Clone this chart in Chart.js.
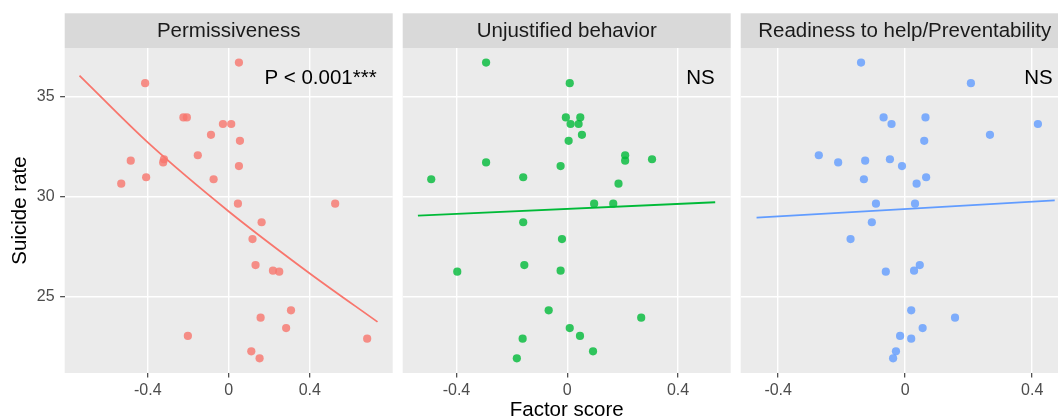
<!DOCTYPE html>
<html>
<head>
<meta charset="utf-8">
<title>Suicide rate by factor score</title>
<script src="https://cdn.jsdelivr.net/npm/chart.js@4.4.1/dist/chart.umd.min.js"></script>
<style>
    html, body { margin: 0; padding: 0; background: #ffffff; overflow: hidden; }
    #wrap { position: relative; width: 1058px; height: 420px; overflow: hidden; }
    #wrap canvas { position: absolute; top: 0; }
</style>
</head>
<body>
<div id="wrap">
    <canvas id="panel1" width="398" height="420" style="left:0px"></canvas>
    <canvas id="panel2" width="338" height="420" style="left:398px"></canvas>
    <canvas id="panel3" width="338" height="420" style="left:736px"></canvas>
</div>
<script>
// Suicide rate (shared by all three panels), high to low
const suicideRate = [36.69, 35.66, 33.95, 33.95, 33.62, 33.62, 33.08, 32.78, 32.06, 31.86,
                     31.79, 31.70, 31.52, 30.96, 30.86, 30.64, 29.64, 29.64, 28.71, 27.87,
                     26.57, 26.29, 26.24, 24.31, 23.94, 23.42, 23.03, 22.89, 22.26, 21.91];

// Factor scores, same order as suicideRate
const permissiveness = [0.050, -0.413, -0.224, -0.207, -0.029, 0.012, -0.088, 0.055, -0.153, -0.320,
                        -0.484, -0.324, 0.050, -0.408, -0.075, -0.531, 0.045, 0.525, 0.162, 0.117,
                        0.132, 0.218, 0.249, 0.307, 0.157, 0.283, -0.202, 0.683, 0.111, 0.152];
const unjustified = [-0.293, 0.009, -0.005, 0.047, 0.012, 0.041, 0.053, 0.005, 0.209, 0.306,
                     0.209, -0.293, -0.024, -0.159, -0.491, 0.185, 0.097, 0.166, -0.159, -0.019,
                     -0.155, -0.024, -0.397, -0.067, 0.267, 0.009, 0.046, -0.161, 0.093, -0.182];
const readiness = [-0.139, 0.207, -0.068, 0.064, -0.043, 0.418, 0.267, 0.060, -0.272, -0.048,
                   -0.126, -0.211, -0.010, 0.066, -0.130, 0.036, -0.092, 0.031, -0.105, -0.172,
                   0.046, 0.028, -0.061, 0.019, 0.157, 0.055, -0.016, 0.019, -0.029, -0.038];

// Fitted lines
const fitPermX = [-0.737, -0.4, 0, 0.4, 0.734];
const fitPermY = [36.04, 32.70, 29.25, 26.15, 23.73];
const fitUnjX = [-0.539, 0.534];
const fitUnjY = [29.04, 29.71];
const fitReadX = [-0.468, 0.471];
const fitReadY = [28.94, 29.80];

const yTicks = [25, 30, 35];
const xTicks = [-0.4, 0, 0.4];

const FONT = '"Liberation Sans", Arial, Helvetica, sans-serif';

// Grey panel background, facet strip and the P-value note
const facetPlugin = {
    id: 'facet',
    beforeDraw(chart, args, opts) {
        const { ctx, chartArea: a } = chart;
        ctx.save();
        ctx.fillStyle = '#EBEBEB';
        ctx.fillRect(a.left, a.top, a.right - a.left, a.bottom - a.top);
        ctx.fillStyle = '#D9D9D9';
        ctx.fillRect(a.left, 13.3, a.right - a.left, a.top - 13.3);
        ctx.fillStyle = '#1A1A1A';
        ctx.font = '20.5px ' + FONT;
        ctx.textAlign = 'center';
        ctx.textBaseline = 'alphabetic';
        ctx.fillText(opts.title, (a.left + a.right) / 2, 37.3);
        ctx.restore();
    },
    afterDatasetsDraw(chart, args, opts) {
        const { ctx, chartArea: a } = chart;
        ctx.save();
        ctx.fillStyle = '#000000';
        ctx.font = '20.5px ' + FONT;
        ctx.textAlign = 'right';
        ctx.textBaseline = 'alphabetic';
        ctx.fillText(opts.note, a.right - 16, 84.3);
        ctx.restore();
    }
};

function buildPanel(id, cfg) {
    const points = cfg.scores.map((s, i) => ({ x: s, y: suicideRate[i] }));
    const fit = cfg.fitX.map((x, i) => ({ x: x, y: cfg.fitY[i] }));

    return new Chart(document.getElementById(id), {
        type: 'scatter',
        data: {
            datasets: [{
                data: fit,
                showLine: true,
                borderColor: cfg.color,
                borderWidth: 1.8,
                pointRadius: 0,
                cubicInterpolationMode: 'monotone',
                fill: false
            }, {
                data: points,
                backgroundColor: cfg.pointColor,
                borderWidth: 0,
                pointRadius: 4.1
            }]
        },
        plugins: [facetPlugin],
        options: {
            responsive: false,
            animation: false,
            events: [],
            devicePixelRatio: 1,
            layout: {
                padding: { left: cfg.padLeft, right: 5.3, top: 48, bottom: 0 }
            },
            plugins: {
                legend: { display: false },
                tooltip: { enabled: false },
                facet: { title: cfg.title, note: cfg.note }
            },
            scales: {
                x: {
                    type: 'linear',
                    min: cfg.xMin,
                    max: cfg.xMax,
                    afterBuildTicks: s => { s.ticks = xTicks.map(v => ({ value: v })); },
                    afterFit: s => { s.height = 47; },
                    grid: {
                        color: '#FFFFFF',
                        lineWidth: 1.4,
                        tickColor: '#333333',
                        tickWidth: 1.1,
                        tickLength: 4.5
                    },
                    border: { display: false },
                    ticks: {
                        color: '#4D4D4D',
                        font: { family: FONT, size: 16 },
                        padding: 3.4,
                        maxRotation: 0,
                        callback: v => String(v)
                    },
                    title: {
                        display: !!cfg.xTitle,
                        text: cfg.xTitle || '',
                        color: '#000000',
                        font: { family: FONT, size: 20.5, lineHeight: 0.9 },
                        padding: 0
                    }
                },
                y: {
                    type: 'linear',
                    min: 21.175,
                    max: 37.42,
                    afterBuildTicks: s => { s.ticks = yTicks.map(v => ({ value: v })); },
                    afterFit: s => { s.width = cfg.showY ? 64.7 : 0; },
                    grid: {
                        color: '#FFFFFF',
                        lineWidth: 1.4,
                        tickColor: '#333333',
                        tickWidth: 1.1,
                        tickLength: 4.6,
                        drawTicks: cfg.showY
                    },
                    border: { display: false },
                    ticks: {
                        display: cfg.showY,
                        color: '#4D4D4D',
                        font: { family: FONT, size: 16 },
                        padding: 5.5
                    },
                    title: {
                        display: cfg.showY,
                        text: 'Suicide rate',
                        color: '#000000',
                        font: { family: FONT, size: 20.5, lineHeight: 1 },
                        padding: { top: 10.25, bottom: 0 }
                    }
                }
            }
        }
    });
}

buildPanel('panel1', {
    title: 'Permissiveness',
    note: 'P < 0.001***',
    scores: permissiveness,
    fitX: fitPermX,
    fitY: fitPermY,
    color: '#F8766D',
    pointColor: 'rgba(248, 118, 109, 0.8)',
    xMin: -0.81,
    xMax: 0.809,
    padLeft: 0,
    showY: true
});

buildPanel('panel2', {
    title: 'Unjustified behavior',
    note: 'NS',
    scores: unjustified,
    fitX: fitUnjX,
    fitY: fitUnjY,
    color: '#00BA38',
    pointColor: 'rgba(0, 186, 56, 0.8)',
    xMin: -0.594,
    xMax: 0.590,
    padLeft: 4.7,
    showY: false,
    xTitle: 'Factor score'
});

buildPanel('panel3', {
    title: 'Readiness to help/Preventability',
    note: 'NS',
    scores: readiness,
    fitX: fitReadX,
    fitY: fitReadY,
    color: '#619CFF',
    pointColor: 'rgba(97, 156, 255, 0.8)',
    xMin: -0.518,
    xMax: 0.515,
    padLeft: 4.7,
    showY: false
});
</script>
</body>
</html>
